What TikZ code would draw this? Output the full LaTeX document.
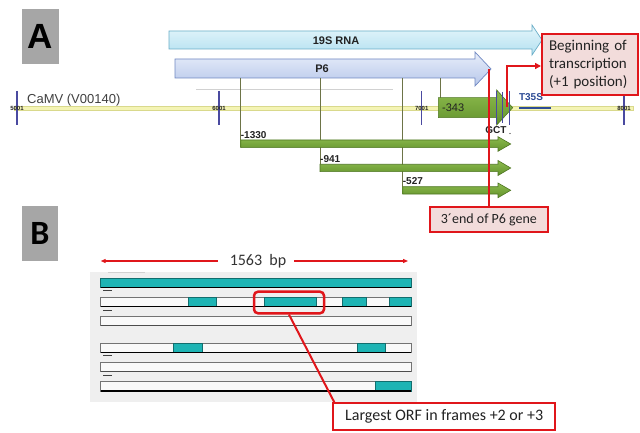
\documentclass[tikz,border=0pt]{standalone}
\usepackage{fontspec}
\setmainfont{Liberation Sans}
\newfontfamily\calfont{Carlito}
\usetikzlibrary{arrows.meta,calc}
\definecolor{rnaTop}{HTML}{E6F6FB}
\definecolor{rnaBot}{HTML}{B2E0F0}
\definecolor{rnaLine}{HTML}{6AAEC8}
\definecolor{psixTop}{HTML}{E8EEFA}
\definecolor{psixBot}{HTML}{B7C7EA}
\definecolor{psixLine}{HTML}{7088C2}
\definecolor{grnTop}{HTML}{8DBB4E}
\definecolor{grnBot}{HTML}{62922C}
\definecolor{grnLine}{HTML}{4E7622}
\definecolor{olive}{HTML}{6D7447}
\definecolor{tickc}{HTML}{4A4AA0}
\definecolor{bandc}{HTML}{F4F4B4}
\definecolor{bandl}{HTML}{D9D98C}
\definecolor{redc}{HTML}{E0161B}
\definecolor{pinkc}{HTML}{F2DCDB}
\definecolor{tealc}{HTML}{1EB4B4}
\definecolor{teall}{HTML}{126E6E}
\definecolor{bgc}{HTML}{EFEFEF}
\definecolor{panelc}{HTML}{A6A6A6}
\definecolor{txtc}{HTML}{222222}
\definecolor{t35c}{HTML}{2D4C96}
\begin{document}
\begin{tikzpicture}[x=1pt,y=-1pt,
  panel/.style={fill=panelc, inner sep=0pt, minimum width=37pt, minimum height=55pt},
  olivel/.style={draw=olive, line width=0.8pt},
  tickl/.style={draw=tickc, line width=1.1pt},
  ticktxt/.style={font=\fontsize{6}{6}\selectfont\bfseries, text=txtc, inner sep=0pt},
  grnarrow/.style={top color=grnTop, bottom color=grnBot, draw=grnLine, line width=0.6pt},
  numlbl/.style={font=\fontsize{10}{10}\selectfont\bfseries, text=txtc, inner sep=0pt, anchor=base west},
  redline/.style={draw=redc, line width=2pt},
  callout/.style={draw=redc, line width=2pt, inner sep=0pt, font=\calfont, text=txtc},
  orfrow/.style={fill=white!60!bgc, draw=black!55, line width=0.6pt},
  orfseg/.style={fill=tealc, draw=teall, line width=0.6pt},
  dashl/.style={draw=black!75, line width=1pt}
]
\useasboundingbox[fill=white] (0,0) rectangle (640,433);

% ---------- Panel A ----------
\node[panel] (pA) at (40,36.5) {\fontsize{35}{35}\selectfont\bfseries A};

% 19S RNA arrow
\path[top color=rnaTop, bottom color=rnaBot, draw=rnaLine, line width=0.7pt]
  (169,31) -- (532,31) -- (532,25) -- (542,40) -- (532,55) -- (532,49) -- (169,49) -- cycle;
\node[font=\fontsize{11}{11}\selectfont\bfseries, text=txtc] (rna) at (336,41) {19S RNA};

% P6 arrow
\path[top color=psixTop, bottom color=psixBot, draw=psixLine, line width=0.7pt]
  (175,59) -- (475,59) -- (475,52) -- (491,69) -- (475,86) -- (475,78) -- (175,78) -- cycle;
\node[font=\fontsize{11}{11}\selectfont\bfseries, text=txtc] (p6) at (322,69) {P6};
\coordinate (p6tip) at (489,69);

% faint ruler
\draw[black!18, line width=0.6pt] (196,89) -- (393,89);

% genome band
\path[fill=bandc, draw=bandl, line width=0.6pt] (14,106) rectangle (633,110.5);
\node[font=\fontsize{13}{13}\selectfont, text=black!75, inner sep=0pt, anchor=base west] (camv) at (27,104) {CaMV (V00140)};

% ticks
\foreach \x/\t/\n in {17/5001/ta, 219/6001/tb, 421.7/7001/tc, 624/8001/td}{
  \draw[tickl] (\x,91) -- (\x,125);
  \node[ticktxt] (\n) at (\x,108) {\t};
}

% olive vertical lines (named points)
\coordinate (va) at (240.7,78);
\coordinate (vb) at (320,78);
\coordinate (vc) at (402.7,78);
\coordinate (vd) at (440.7,78);
\coordinate (ea) at (240.7,140);
\coordinate (eb) at (320,164.3);
\coordinate (ec) at (402.7,186.7);
\coordinate (ed) at (440.7,97.7);
\draw[olivel] (va) -- (ea);
\draw[olivel] (vb) -- (eb);
\draw[olivel] (vc) -- (ec);
\draw[olivel] (vd) -- (ed);

% green arrows
\path[grnarrow] (240.7,140) -- (498,140) -- (498,136.7) -- (510.7,144) -- (498,151.3) -- (498,147.7) -- (240.7,147.7) -- cycle;
\node[numlbl] (n1330) at (240.7,138.5) {-1330};
\path[grnarrow] (320,164.3) -- (498,164.3) -- (498,160.5) -- (510.7,168) -- (498,175.5) -- (498,171.7) -- (320,171.7) -- cycle;
\node[numlbl] (n941) at (320,162.3) {-941};
\path[grnarrow] (402.7,186.7) -- (498,186.7) -- (498,183) -- (510.7,190.3) -- (498,197.7) -- (498,194) -- (402.7,194) -- cycle;
\node[numlbl] (n527) at (402.7,185) {-527};

% -343 arrow
\path[grnarrow] (438.3,97.7) -- (496.7,97.7) -- (496.7,90) -- (512.7,107.7) -- (496.7,125) -- (496.7,117.7) -- (438.3,117.7) -- cycle;
\node[font=\fontsize{11}{11}\selectfont, text=txtc, inner sep=0pt, anchor=base west] (n343) at (442,111.5) {-343};
\draw[draw=tickc, line width=0.8pt] (496.7,91) -- (496.7,124);
\draw[draw=tickc, line width=0.8pt] (502.7,92) -- (502.7,123);
\draw[draw=tickc, line width=0.8pt] (509.3,91) -- (509.3,125);
\node[font=\fontsize{10}{10}\selectfont\bfseries, text=txtc, inner sep=0pt] (gct) at (496,130) {GCT};
\fill[txtc] (510,133.5) circle (0.6pt);

% T35S
\node[font=\fontsize{10}{10}\selectfont\bfseries, text=t35c, inner sep=0pt] (t35s) at (531,97.5) {T35S};
\draw[draw=t35c, line width=2.5pt] (519,108) -- (551,108);

% callouts A
\node[callout, fill=pinkc, anchor=north west, minimum width=96pt, minimum height=61pt,
      text width=82pt, align=left, inner xsep=7pt, font=\calfont\fontsize{15}{18.3}\selectfont] (begin) at (541,33)
  {Beginning of\\transcription\\(+1 position)};
\coordinate (tss) at (507.3,107);
\draw[redline, -{Triangle[length=6pt,width=6pt]}] (tss) |- ($(begin.west)+(0,1.5)$);

\node[callout, fill=pinkc, minimum width=117.7pt, minimum height=25.6pt,
      font=\calfont\fontsize{14}{14}\selectfont] (threep) at (488.9,219.5) {3´end of P6 gene};
\draw[redline] (threep.north) -- (threep.north |- p6tip);

% ---------- Panel B ----------
\node[panel, minimum height=55pt, minimum width=36pt] (pB) at (40,233.5) {\calfont\fontsize{34}{34}\selectfont\bfseries B};

\node[font=\calfont\fontsize{16}{16}\selectfont, text=black!80, inner sep=0pt] (bp) at (258,261) {1563\ \ bp};
\coordinate (bpl) at (100.7,261);
\coordinate (bpr) at (408,261);
\draw[draw=redc, line width=1.1pt, -{Triangle[length=5pt,width=4pt]}] ($(bp.west)+(-12,0)$) -- (bpl);
\draw[draw=redc, line width=1.1pt, -{Triangle[length=5pt,width=4pt]}] ($(bp.east)+(8,0)$) -- (bpr);

\fill[bgc] (90,271.7) rectangle (416.7,401.7);
\draw[black!18, line width=0.8pt] (108,272.5) -- (145,272.5);

% rows
\path[orfseg] (100.7,278.3) rectangle (411,287.7);
\draw[black, line width=1.1pt] (100.7,287.7) -- (411,287.7);

\path[orfrow] (100.7,297.7) rectangle (411,306.7);
\path[orfseg] (188.3,297.7) rectangle (216.7,306.7);
\path[orfseg] (264,297.7) rectangle (316.7,306.7);
\path[orfseg] (342.7,297.7) rectangle (366.7,306.7);
\path[orfseg] (389.3,297.7) rectangle (411,306.7);
\draw[black, line width=1.1pt] (100.7,306.7) -- (411,306.7);

\path[orfrow] (100.7,316.7) rectangle (411,325.7);
\draw[black!70, line width=1pt] (100.7,325.7) -- (411,325.7);

\path[orfrow] (100.7,343.3) rectangle (411,352.3);
\path[orfseg] (173.3,343.3) rectangle (202,352.3);
\path[orfseg] (357.3,343.3) rectangle (385.3,352.3);
\draw[black, line width=1.1pt] (100.7,352.3) -- (411,352.3);

\path[orfrow] (100.7,362.7) rectangle (411,371.7);
\draw[black!70, line width=1pt] (100.7,371.7) -- (411,371.7);

\path[orfrow] (100.7,381.7) rectangle (411,391);
\path[orfseg] (375,381.7) rectangle (411,391);
\draw[black, line width=1.1pt] (100.7,391) -- (411,391);

% dashes
\foreach \y in {290.7,310,355.7,375}{ \draw[dashl] (103,\y) -- (111.7,\y); }

% highlight and callout
\node[draw=redc, line width=2.5pt, rounded corners=4pt, minimum width=70pt, minimum height=21.6pt, inner sep=0pt] (hl) at (289,302.5) {};
\node[callout, fill=white, minimum width=221.7pt, minimum height=26.7pt,
      font=\calfont\fontsize{16}{16}\selectfont] (lg) at (444.2,416.7) {Largest ORF in frames +2 or +3};
\draw[redline] (hl.south) -- ($(lg.north west)+(2,0)$);
\end{tikzpicture}
\end{document}
